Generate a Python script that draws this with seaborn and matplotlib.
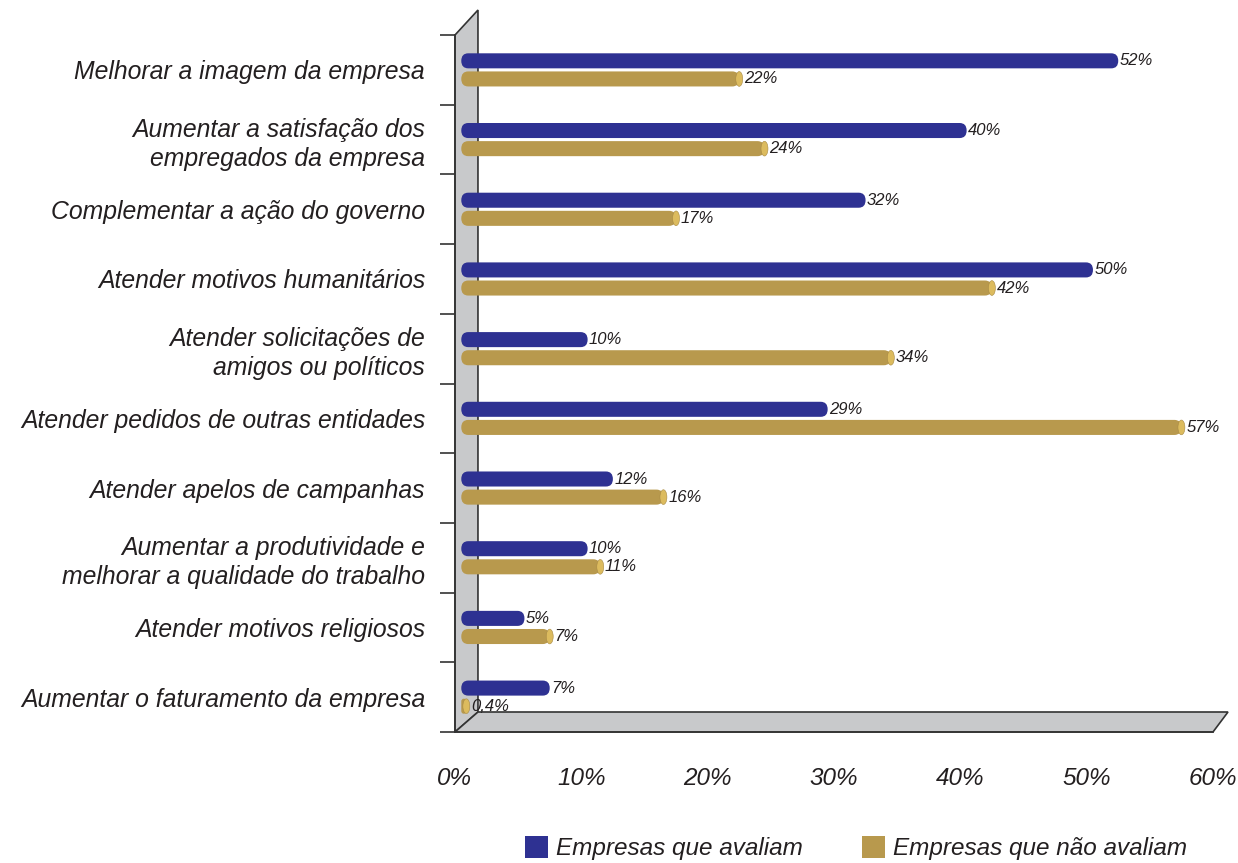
import numpy as np
import pandas as pd
import matplotlib
matplotlib.use("Agg")
import matplotlib.pyplot as plt
import matplotlib.colors as mcolors
from matplotlib.patches import FancyBboxPatch, Ellipse, Polygon, Patch
import seaborn as sns

# Motivos para a realização de ações sociais
categorias = [
    "Melhorar a imagem da empresa",
    "Aumentar a satisfação dos\nempregados da empresa",
    "Complementar a ação do governo",
    "Atender motivos humanitários",
    "Atender solicitações de\namigos ou políticos",
    "Atender pedidos de outras entidades",
    "Atender apelos de campanhas",
    "Aumentar a produtividade e\nmelhorar a qualidade do trabalho",
    "Atender motivos religiosos",
    "Aumentar o faturamento da empresa",
]
avaliam = [52, 40, 32, 50, 10, 29, 12, 10, 5, 7]
nao_avaliam = [22, 24, 17, 42, 34, 57, 16, 11, 7, 0.4]
grupos = ["Empresas que avaliam", "Empresas que não avaliam"]
cores = ["#2e3192", "#b8994d"]
cor_tampa = "#dcbb5e"
ticks_x = [0, 10, 20, 30, 40, 50, 60]

df = pd.DataFrame({
    "categoria": categorias * 2,
    "valor": avaliam + nao_avaliam,
    "grupo": [grupos[0]] * len(categorias) + [grupos[1]] * len(categorias),
})

sns.set_theme(style="white")
plt.rcParams["font.family"] = ["Liberation Sans", "DejaVu Sans"]
texto = "#231f20"
linha = "#333333"

fig = plt.figure(figsize=(12.38, 8.63), dpi=100)
ax = fig.add_axes([0.3675, 0.1518, 0.6123, 0.8076])

sns.barplot(data=df, y="categoria", x="valor", hue="grupo", order=categorias,
            hue_order=grupos, palette=cores, saturation=1, orient="h",
            width=0.52, gap=0.17, legend=False, ax=ax)

ax.set_xlim(0, 60)
ax.set_ylim(len(categorias) - 0.5, -0.5)

# profundidade do efeito 3D (em unidades de dados)
px_x = 758 / 60.0          # pixels por ponto percentual
px_y = 697 / len(categorias)
dx = 23 / px_x
dy_base = 20 / px_y
dy_topo = 25 / px_y
y_bot = len(categorias) - 0.5
y_top = -0.5

barras = list(ax.patches)

parede = Polygon([(0, y_top), (dx, y_top - dy_topo), (dx, y_bot - dy_base), (0, y_bot)],
                 closed=True, facecolor="#c8c9cb", edgecolor=linha, lw=1.2,
                 zorder=0.5, clip_on=False)
piso = Polygon([(0, y_bot), (60, y_bot), (60 + 15 / px_x, y_bot - dy_base), (dx, y_bot - dy_base)],
               closed=True, facecolor="#c8c9cb", edgecolor=linha, lw=1.2,
               zorder=0.5, clip_on=False)
ax.add_patch(parede)
ax.add_patch(piso)

# barras cilíndricas com cantos arredondados
x0 = 0.5
ouro = mcolors.to_hex(cores[1])
for barra in barras:
    w = barra.get_width()
    y = barra.get_y()
    h = barra.get_height()
    cor = mcolors.to_hex(barra.get_facecolor())
    barra.set_visible(False)
    r = min(0.55, w / 2) if w > 0 else 0.1
    asp = (h / 2) / 0.55
    corpo = FancyBboxPatch((x0, y), w, h,
                           boxstyle=f"round,pad=0,rounding_size={r:.4f}",
                           mutation_aspect=asp, facecolor=cor, edgecolor="none",
                           zorder=3, clip_on=False)
    ax.add_patch(corpo)
    fim = x0 + w
    if cor == ouro:
        # face do cilindro na extremidade
        ew = 0.55
        tampa = Ellipse((fim, y + h / 2), ew, h * 0.98,
                        facecolor=cor_tampa, edgecolor="#a88a44", lw=0.4,
                        zorder=4, clip_on=False)
        ax.add_patch(tampa)
        fim += ew / 2
    rotulo = f"{w:g}".replace(".", ",") + "%"
    ax.text(fim + 0.1, y + h / 2, rotulo, ha="left", va="center",
            fontsize=12, fontstyle="italic", color=texto, zorder=5)

# eixos
for lado in ("top", "right"):
    ax.spines[lado].set_visible(False)
for lado in ("left", "bottom"):
    ax.spines[lado].set_color(linha)
    ax.spines[lado].set_linewidth(1.2)
    ax.spines[lado].set_zorder(0.6)

ax.set_xticks(ticks_x)
ax.set_xticklabels([f"{t}%" for t in ticks_x], fontsize=17.5, fontstyle="italic", color=texto)
ax.tick_params(axis="x", length=12.5, width=1.2, color=linha, pad=13, direction="out")

ax.set_yticks(range(len(categorias)))
ax.set_yticklabels(categorias, fontsize=17.8, fontstyle="italic", color=texto,
                   linespacing=1.25)
ax.set_yticks(np.arange(-0.5, len(categorias), 1.0), minor=True)
ax.tick_params(axis="y", which="major", length=0, pad=21.5)
ax.tick_params(axis="y", which="minor", length=11, width=1.2, color=linha, direction="out", left=True)
ax.set_xlabel("")
ax.set_ylabel("")
ax.grid(False)

fig.legend(handles=[Patch(facecolor=c, edgecolor="none", label=g) for g, c in zip(grupos, cores)],
           loc="center", bbox_to_anchor=(0.6915, 0.0174), ncol=2, frameon=False,
           prop={"style": "italic", "size": 17.5}, labelcolor=texto,
           handlelength=0.95, handleheight=1.05, handletextpad=0.35, columnspacing=2.4)

fig.savefig("out.png", dpi=100, facecolor="white")
